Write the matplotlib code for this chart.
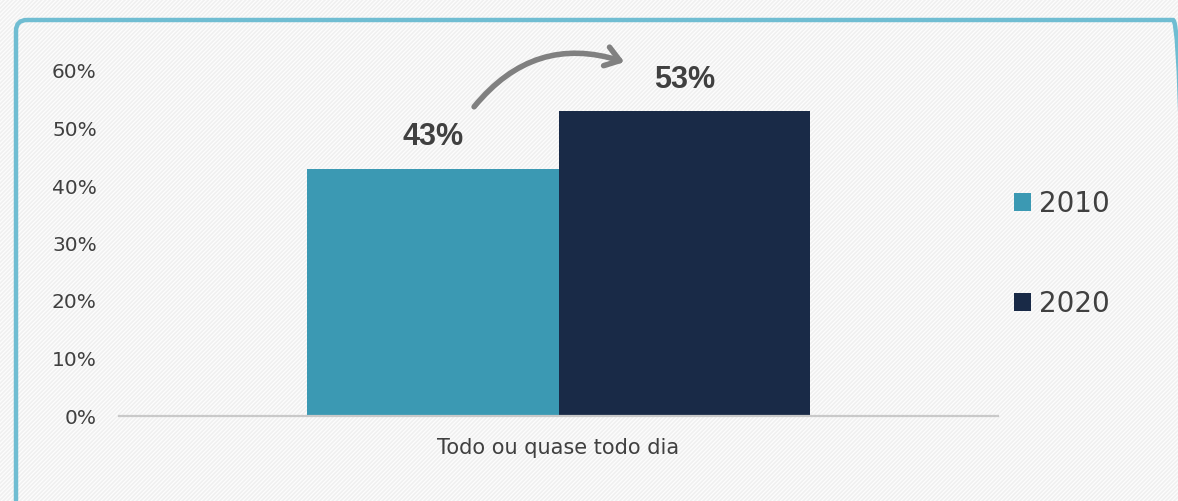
import numpy as np
import matplotlib.pyplot as plt
from matplotlib.patches import FancyBboxPatch, Rectangle
from matplotlib.transforms import IdentityTransform

# data
categories = ["Todo ou quase todo dia"]
years = ["2010", "2020"]
values = [43, 53]
colors = ["#3b99b3", "#192a47"]
yticks = [0, 10, 20, 30, 40, 50, 60]

plt.rcParams['hatch.color'] = '#f0f0f0'
plt.rcParams['hatch.linewidth'] = 1.2

W, H = 1178, 501
fig = plt.figure(figsize=(W / 100, H / 100), dpi=100)
fig.patch.set_facecolor('#fdfdfd')

# striped background
bg = Rectangle((0, 0), 1, 1, transform=fig.transFigure, facecolor='#fdfdfd',
               edgecolor='#f0f0f0', linewidth=0, hatch='////////', zorder=-5)
fig.patches.append(bg)

# rounded blue frame in pixels (right and bottom run off the picture)
frame = FancyBboxPatch((16, -60), 1184 - 16, H - 20 + 60,
                       boxstyle="round,pad=0,rounding_size=11",
                       transform=IdentityTransform(), facecolor='none',
                       edgecolor='#70bdd2', linewidth=3.2, zorder=0)
fig.patches.append(frame)

ax = fig.add_axes([119 / W, 1 - 416 / H, (998 - 119) / W, (416 - 71) / H])
ax.set_facecolor('none')

bw = 0.286
x = np.arange(len(categories))
for i, (yr, v, c) in enumerate(zip(years, values, colors)):
    ax.bar(x + (i - 0.5) * bw, [v], width=bw, color=c, label=yr, zorder=2)
    ax.annotate(f"{v}%", (x[0] + (i - 0.5) * bw, v), xytext=(0, 12),
                textcoords='offset points', ha='center', va='bottom',
                fontsize=22, fontweight='bold', color='#404040',
                family='Liberation Sans')

ax.set_xlim(-0.5, 0.5)
ax.set_ylim(0, 60)
ax.set_yticks(yticks)
ax.set_yticklabels([f"{t}%" for t in yticks])
ax.set_xticks(x)
ax.set_xticklabels(categories)
ax.tick_params(length=0, labelsize=14.5, labelcolor='#404040')
ax.tick_params(axis='y', pad=16)
ax.tick_params(axis='x', pad=16, labelsize=15)
for s in ['top', 'right', 'left']:
    ax.spines[s].set_visible(False)
ax.spines['bottom'].set_color('#c9c9c9')
ax.spines['bottom'].set_linewidth(1.6)

# curved arrow
ax.annotate('', xy=(0.078, 61.4), xytext=(-0.098, 53.4),
            arrowprops=dict(arrowstyle='->,head_length=1.0,head_width=0.7',
                            color='#808080', lw=4,
                            connectionstyle='arc3,rad=-0.35'),
            annotation_clip=False)

leg = ax.legend(loc='center left', bbox_to_anchor=(0.99, 0.47), frameon=False,
                fontsize=20, handlelength=0.6, handleheight=0.6,
                handletextpad=0.3, labelspacing=2.6)
for t in leg.get_texts():
    t.set_color('#404040')

fig.savefig('out.png', dpi=100, facecolor=fig.get_facecolor())
